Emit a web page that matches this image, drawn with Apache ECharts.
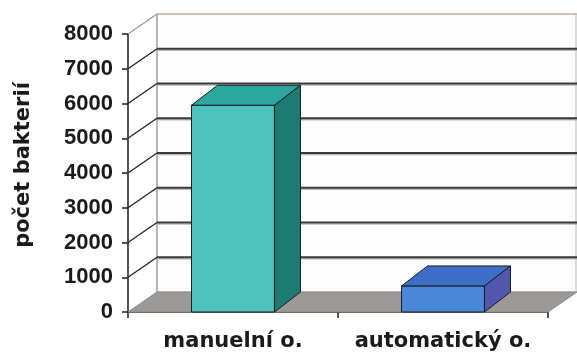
<!DOCTYPE html>
<html>
<head>
<meta charset="utf-8">
<script src="https://cdn.jsdelivr.net/npm/echarts@6/dist/echarts.min.js"></script>
<style>
    html, body { margin: 0; padding: 0; background: #fff; }
    #chart { width: 577px; height: 353px; }
</style>
</head>
<body>
<div id="chart"></div>
<script>
// data
var categories = ['manuelní o.', 'automatický o.'];
var values = [5950, 750];
var yTicks = [0, 1000, 2000, 3000, 4000, 5000, 6000, 7000, 8000];

// barvy sloupcu: celni, horni, bocni strana
var barColors = [
    ['#4ec3be', '#2ba79f', '#1e7b74'],
    ['#4a87d6', '#3d6fc8', '#5156ae']
];

var DX = 29, DY = -20;   // hloubka steny
var BDX = 26, BDY = -20; // hloubka sloupce

var myChart = echarts.init(document.getElementById('chart'));

// zadni stena
function renderWall(params, api) {
    var cs = params.coordSys;
    var x0 = cs.x, x1 = cs.x + cs.width;
    var yTop = api.coord([0, yTicks[yTicks.length - 1]])[1];
    var yBot = api.coord([0, 0])[1];
    return {
        type: 'group',
        children: [
            {
                type: 'rect',
                shape: { x: x0 + DX, y: yTop + DY, width: x1 - x0 - 1, height: yBot - yTop },
                style: { fill: '#fdfdfd', stroke: '#cfcfcf', lineWidth: 1.5 }
            },
            {
                type: 'line',
                shape: { x1: x0 + DX, y1: yTop + DY, x2: x1 + DX, y2: yTop + DY },
                style: { stroke: '#c9b7b0', lineWidth: 1.5 }
            },
            {
                type: 'line',
                shape: { x1: x0 + DX, y1: yTop + DY, x2: x0 + DX, y2: yBot + DY },
                style: { stroke: '#a8a8a8', lineWidth: 1.5 }
            }
        ]
    };
}

// mrizka na zadni a bocni stene
function renderGrid(params, api) {
    var cs = params.coordSys;
    var x0 = cs.x, x1 = cs.x + cs.width;
    var v = api.value(1);
    if (v === 0) {
        return;
    }
    var y = api.coord([0, v])[1];
    var isTop = v === yTicks[yTicks.length - 1];
    var children = [
        {
            type: 'line',
            shape: { x1: x0, y1: y, x2: x0 + DX, y2: y + DY },
            style: { stroke: isTop ? '#b09a90' : '#2a2a2a', lineWidth: 1.5 }
        }
    ];
    if (!isTop) {
        children.push({
            type: 'line',
            shape: { x1: x0 + DX, y1: y + DY + 1.5, x2: x1 + DX, y2: y + DY + 1.5 },
            style: { stroke: '#b8b8b8', lineWidth: 1.5 }
        });
        children.push({
            type: 'line',
            shape: { x1: x0 + DX, y1: y + DY, x2: x1 + DX, y2: y + DY },
            style: { stroke: '#3a3a3a', lineWidth: 1.8 }
        });
    }
    return { type: 'group', children: children };
}

// podlaha
function renderFloor(params, api) {
    var cs = params.coordSys;
    var x0 = cs.x, x1 = cs.x + cs.width;
    var yBot = api.coord([0, 0])[1];
    return {
        type: 'polygon',
        shape: { points: [[x0, yBot], [x1, yBot], [x1 + DX, yBot + DY], [x0 + DX, yBot + DY]] },
        style: { fill: '#9c9a98', stroke: '#8a8886', lineWidth: 1 }
    };
}

// 3D sloupec
function renderBar(params, api) {
    var idx = api.value(0);
    var base = api.coord([idx, 0]);
    var top = api.coord([idx, api.value(1)]);
    var w = api.size([1, 0])[0] * 0.395;
    var x = base[0] - w / 2;
    var c = barColors[params.dataIndex];
    var line = { stroke: '#1c1c1c', lineWidth: 1 };
    return {
        type: 'group',
        children: [
            {
                type: 'rect',
                shape: { x: x, y: top[1], width: w, height: base[1] - top[1] },
                style: echarts.util.extend({ fill: c[0] }, line)
            },
            {
                type: 'polygon',
                shape: { points: [[x, top[1]], [x + w, top[1]], [x + w + BDX, top[1] + BDY], [x + BDX, top[1] + BDY]] },
                style: echarts.util.extend({ fill: c[1] }, line)
            },
            {
                type: 'polygon',
                shape: { points: [[x + w, top[1]], [x + w + BDX, top[1] + BDY], [x + w + BDX, base[1] + BDY], [x + w, base[1]]] },
                style: echarts.util.extend({ fill: c[2] }, line)
            }
        ]
    };
}

var option = {
    animation: false,
    backgroundColor: '#ffffff',
    grid: { left: 128, right: 29, top: 34, bottom: 41 },
    xAxis: {
        type: 'category',
        data: categories,
        axisLine: { show: true, lineStyle: { color: '#1c1c1c', width: 1.5 } },
        axisTick: { show: true, length: 6, lineStyle: { color: '#1c1c1c', width: 1.5 } },
        axisLabel: {
            interval: 0,
            margin: 19,
            color: '#1a1a1a',
            fontFamily: 'DejaVu Sans',
            fontWeight: 'bold',
            fontSize: 21
        },
        splitLine: { show: false }
    },
    yAxis: {
        type: 'value',
        min: 0,
        max: 8000,
        interval: 1000,
        axisLine: { show: true, lineStyle: { color: '#1c1c1c', width: 1.5 } },
        axisTick: { show: true, length: 6, lineStyle: { color: '#1c1c1c', width: 1.5 } },
        axisLabel: {
            margin: 15,
            color: '#1a1a1a',
            fontFamily: 'Liberation Sans',
            fontWeight: 'bold',
            fontSize: 22,
            formatter: function (v) { return String(v); }
        },
        splitLine: { show: false }
    },
    graphic: [
        {
            type: 'text',
            x: 24,
            y: 165,
            rotation: Math.PI / 2,
            style: {
                text: 'počet bakterií',
                fill: '#1a1a1a',
                font: 'bold 21px "DejaVu Sans"',
                textAlign: 'center',
                textVerticalAlign: 'middle'
            }
        }
    ],
    series: [
        { type: 'custom', z: 1, renderItem: renderWall, data: [[0, 0]], silent: true },
        { type: 'custom', z: 2, renderItem: renderGrid, data: yTicks.map(function (v) { return [0, v]; }), silent: true },
        { type: 'custom', z: 3, renderItem: renderFloor, data: [[0, 0]], silent: true },
        { type: 'custom', z: 4, renderItem: renderBar, data: values.map(function (v, i) { return [i, v]; }) }
    ]
};

myChart.setOption(option);
</script>
</body>
</html>
